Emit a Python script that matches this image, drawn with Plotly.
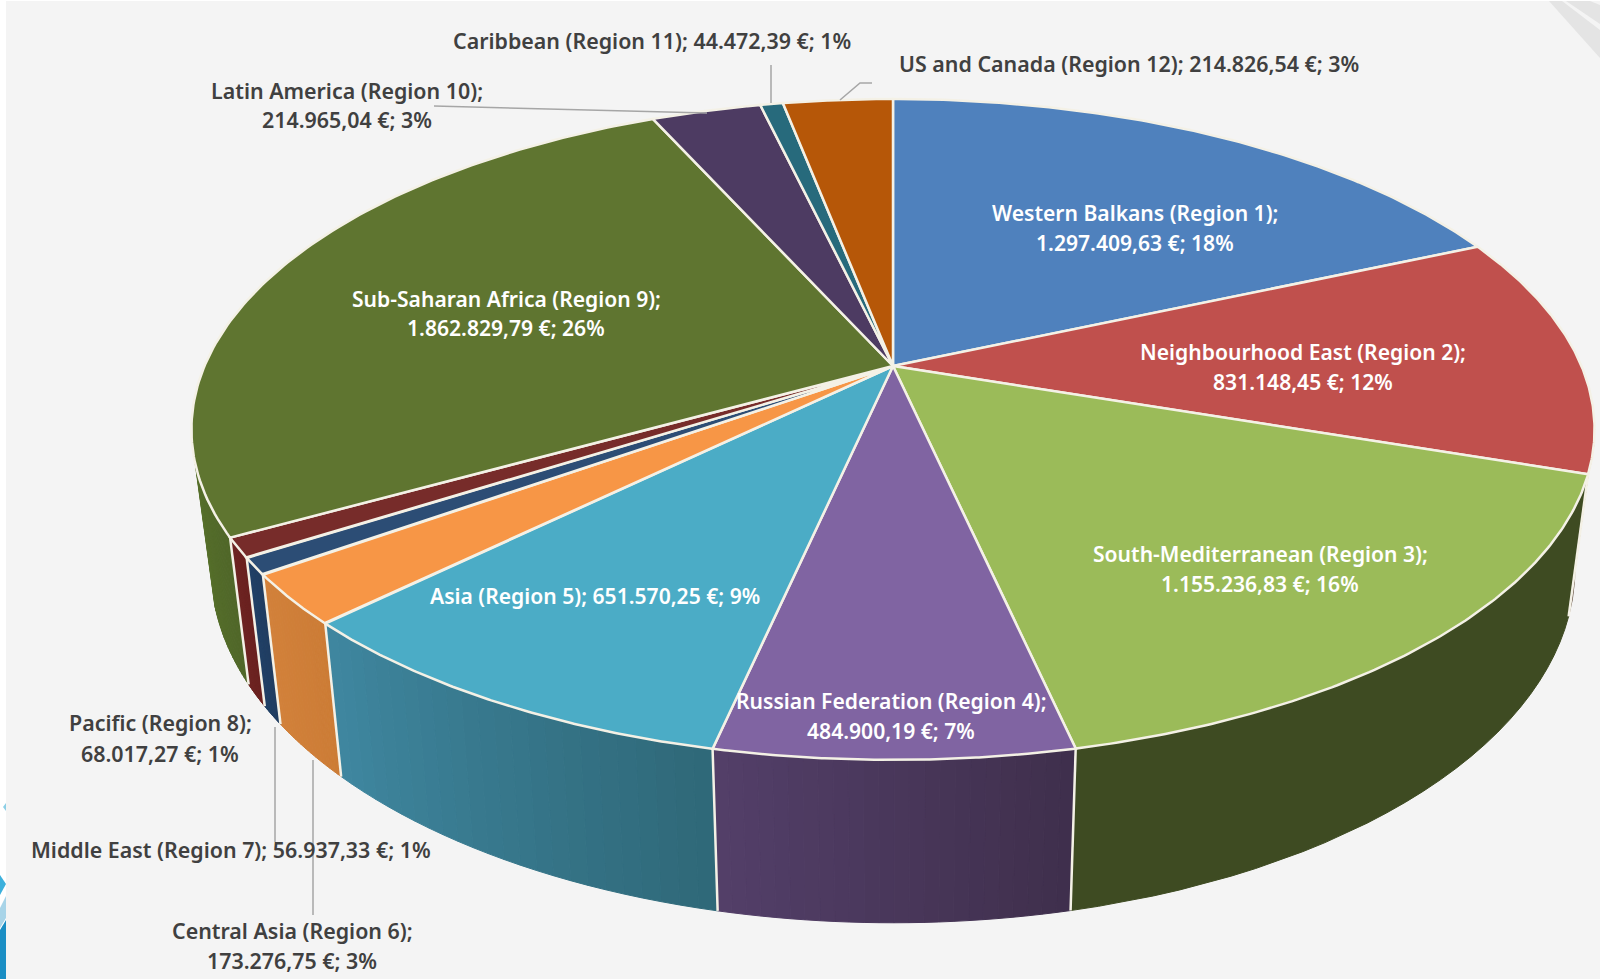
import numpy as np
import plotly.graph_objects as go

# ---------- data ----------
regions = ["Western Balkans (Region 1)", "Neighbourhood East (Region 2)", "South-Mediterranean (Region 3)",
           "Russian Federation (Region 4)", "Asia (Region 5)", "Central Asia (Region 6)",
           "Middle East (Region 7)", "Pacific (Region 8)", "Sub-Saharan Africa (Region 9)",
           "Latin America (Region 10)", "Caribbean (Region 11)", "US and Canada (Region 12)"]
amounts = [1297409.63, 831148.45, 1155236.83, 484900.19, 651570.25, 173276.75,
           56937.33, 68017.27, 1862829.79, 214965.04, 44472.39, 214826.54]
amount_labels = ["1.297.409,63 €", "831.148,45 €", "1.155.236,83 €", "484.900,19 €", "651.570,25 €",
                 "173.276,75 €", "56.937,33 €", "68.017,27 €", "1.862.829,79 €", "214.965,04 €",
                 "44.472,39 €", "214.826,54 €"]
percent_labels = ["18%", "12%", "16%", "7%", "9%", "3%", "1%", "1%", "26%", "3%", "1%", "3%"]

# ---------- style ----------
top_colors = ["#4F81BD", "#C0504D", "#9BBB59", "#8064A2", "#4BACC6", "#F79646",
              "#2C4D75", "#772C2A", "#5F7530", "#4D3B62", "#276A7C", "#B65708"]
wall_left = ["#3b6190", "#5a4436", "#3E4B22", "#533F69", "#3F87A0", "#D2813A",
             "#234268", "#6E2422", "#566F2B", "#3a2c4a", "#1d5060", "#884106"]
wall_right = ["#3b6190", "#5a4436", "#3E4B22", "#3F2F4C", "#2F6878", "#CC7C36",
              "#1F3C60", "#6A2220", "#4F6628", "#3a2c4a", "#1d5060", "#884106"]
edge = "#F4F1E6"
dark_text = "#404040"

# label placement
label_x = [1135, 1303, 1260, 891, 595, 292, 231, 160, 506, 347, 651.5, 1128.6]
label_y = [212, 351, 553, 700, 595, 930.5, 849, 722.5, 298.5, 90.5, 40, 63.5]
label_gap = [30.5, 30, 30.5, 30.5, 0, 29.5, 0, 30.5, 29, 29, 0, 0]
font_family = "Noto Sans"
font_size_dark = 21.4
font_size_white = 21.1

leader_paths = [[(771, 65), (771, 103)],
                [(872, 83), (860, 83), (840, 100)],
                [(434, 106), (707, 113)],
                [(275, 727), (275, 842)],
                [(313, 760), (313, 915)]]

# ---------- projection of the tilted disc ----------
CX, CY = 893.0, 366.0
A, B, P = 688.5, 318.3, 0.192
WALL_START_DROP = 97.0


def rim(theta):
    u, v = np.sin(theta), np.cos(theta)
    w = 1 + P * v
    return CX + A * u / w, CY - B * v / w


def lower(theta):
    x, y = rim(theta)
    return CX + 0.972 * (x - CX), y + 147 + 0.072 * (y - 540)


total = sum(amounts)
edges = 2 * np.pi * np.concatenate([[0], np.cumsum(amounts)]) / total
left_limit = 2 * np.pi - np.arccos(-WALL_START_DROP / (B + WALL_START_DROP * P))
right_limit = np.arccos(-P)


def mix(c1, c2, t):
    a = [int(c1[i:i + 2], 16) for i in (1, 3, 5)]
    b = [int(c2[i:i + 2], 16) for i in (1, 3, 5)]
    return "#%02x%02x%02x" % tuple(round(p + (q - p) * t) for p, q in zip(a, b))


fig = go.Figure()


def poly(xs, ys, fill, line=None, width=1):
    fig.add_trace(go.Scatter(x=np.asarray(xs).tolist(), y=np.asarray(ys).tolist(), mode="lines", fill="toself",
                             fillcolor=fill, line=dict(color=line or fill, width=width),
                             hoverinfo="skip", showlegend=False))


# side walls
for i in range(len(amounts)):
    t0, t1 = max(edges[i], right_limit), min(edges[i + 1], left_limit)
    if t1 <= t0:
        continue
    strips = 24 if wall_left[i] != wall_right[i] else 1
    cuts = np.linspace(t0, t1, strips + 1)
    for s in range(strips):
        th = np.linspace(cuts[s], cuts[s + 1], 30)
        xt, yt = rim(th)
        xb, yb = lower(th)
        poly(np.r_[xt, xb[::-1], xt[0]], np.r_[yt, yb[::-1], yt[0]],
             mix(wall_left[i], wall_right[i], 1 - (s + 0.5) / strips))
    if edges[i] > right_limit:
        xa, ya = rim(edges[i])
        xc, yc = lower(edges[i])
        fig.add_trace(go.Scatter(x=[xa, xc], y=[ya, yc], mode="lines", line=dict(color=edge, width=2.5),
                                 hoverinfo="skip", showlegend=False))

# top face
for i in range(len(amounts)):
    th = np.linspace(edges[i], edges[i + 1], 120)
    xt, yt = rim(th)
    poly(np.r_[CX, xt, CX], np.r_[CY, yt, CY], top_colors[i], edge, 2.5)

# labels
for i in range(len(amounts)):
    white = i in (0, 1, 2, 3, 4, 8)
    color = "white" if white else dark_text
    size = font_size_white if white else font_size_dark
    if label_gap[i]:
        lines = [regions[i] + ";", f"{amount_labels[i]}; {percent_labels[i]}"]
    else:
        lines = [f"{regions[i]}; {amount_labels[i]}; {percent_labels[i]}"]
    for k, txt in enumerate(lines):
        fig.add_annotation(x=label_x[i], y=label_y[i] + k * label_gap[i], text=txt, showarrow=False,
                           xanchor="center", yanchor="middle",
                           font=dict(family=font_family, size=size, color=color, weight=600))

shapes = [
    dict(type="rect", x0=6, x1=1600, y0=1, y1=979, fillcolor="#F4F4F4", line_width=0, layer="below"),
    dict(type="path", path="M1549,1 L1562,1 L1600,30 L1600,58 Z", fillcolor="#E4E4E4", line_width=0, layer="below"),
    dict(type="path", path="M1566,1 L1590,1 L1600,5 L1600,24 Z", fillcolor="#E4E4E4", line_width=0, layer="below"),
    dict(type="path", path="M3,807 L6,803 L6,811 Z", fillcolor="#8CCFE6", line_width=0, layer="below"),
    dict(type="path", path="M0,875 L6,884 L0,895 Z", fillcolor="#3CB0DC", line_width=0, layer="below"),
    dict(type="path", path="M0,908 L6,896 L6,918 L0,928 Z", fillcolor="#A8D4E8", line_width=0, layer="below"),
    dict(type="path", path="M0,930 L6,920 L6,979 L0,979 Z", fillcolor="#1A8EC4", line_width=0, layer="below"),
]
for path in leader_paths:
    d = "M" + " L".join(f"{x},{y}" for x, y in path)
    shapes.append(dict(type="path", path=d, line=dict(color="#A6A6A6", width=1.5), layer="above"))

fig.update_layout(width=1600, height=979, margin=dict(l=0, r=0, t=0, b=0),
                  paper_bgcolor="white", plot_bgcolor="rgba(0,0,0,0)", shapes=shapes, showlegend=False,
                  xaxis=dict(range=[0, 1600], visible=False, fixedrange=True),
                  yaxis=dict(range=[979, 0], visible=False, fixedrange=True))

fig.write_html("out.html", post_script="document.body.style.margin='0';document.body.style.overflow='hidden';",
               config={"displayModeBar": False})
